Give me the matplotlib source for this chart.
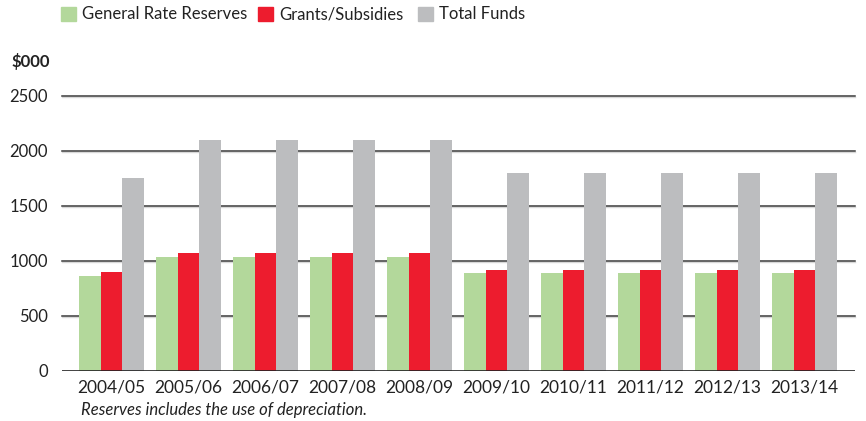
import numpy as np
import matplotlib.pyplot as plt
from matplotlib.patches import Rectangle

plt.rcParams['font.family'] = ['Lato', 'DejaVu Sans']

years = ['2004/05', '2005/06', '2006/07', '2007/08', '2008/09',
         '2009/10', '2010/11', '2011/12', '2012/13', '2013/14']
reserves = [860, 1030, 1030, 1030, 1030, 885, 885, 885, 885, 885]
grants = [895, 1068, 1068, 1068, 1068, 915, 915, 915, 915, 915]
total = [1750, 2100, 2100, 2100, 2100, 1800, 1800, 1800, 1800, 1800]
yticks = [0, 500, 1000, 1500, 2000, 2500]

c_green = '#b3d89b'
c_red = '#ed1c2e'
c_gray = '#bcbdbf'

fig = plt.figure(figsize=(8.66, 4.21), dpi=100)
ax = fig.add_axes([0.0716, 0.1195, 0.9157, 0.6532])

x = np.arange(len(years))
w = 0.2814
ax.bar(x - w, reserves, w, color=c_green, zorder=3)
ax.bar(x, grants, w, color=c_red, zorder=3)
ax.bar(x + w, total, w, color=c_gray, zorder=3)

# gridlines with faint shadow underneath
for v in yticks[1:]:
    ax.axhline(v - 10, color='#d8d8d8', lw=1.0, zorder=1, clip_on=False)
    ax.axhline(v, color='#3a3a3a', lw=1.1, zorder=2, clip_on=False)
ax.axhline(0, color='#222222', lw=1.2, zorder=4)

ax.set_xlim(-0.643, 9.656)
ax.set_ylim(0, 2500)
for s in ax.spines.values():
    s.set_visible(False)
ax.set_yticks(yticks)
ax.set_yticklabels([str(v) for v in yticks])
ax.set_xticks(x)
ax.set_xticklabels(years)
ax.tick_params(axis='y', length=0, pad=10, labelsize=12, labelcolor='#222222')
ax.tick_params(axis='x', length=0, pad=6, labelsize=12.5, labelcolor='#222222')

fig.text(12 / 866, 1 - 62 / 421, '$000', fontsize=12, fontweight='bold',
         color='#222222', va='center', ha='left')
fig.text(81 / 866, 1 - 410 / 421, 'Reserves includes the use of depreciation.',
         fontsize=12, style='italic', color='#222222', va='center', ha='left')

# legend
leg_items = [(61, c_green, 'General Rate Reserves'),
             (258, c_red, 'Grants/Subsidies'),
             (418, c_gray, 'Total Funds')]
for px, col, lab in leg_items:
    fig.patches.append(Rectangle((px / 866, 1 - 21 / 421), 15 / 866, 14 / 421,
                                 transform=fig.transFigure, color=col))
    fig.text((px + 21) / 866, 1 - 14 / 421, lab, fontsize=12,
             color='#222222', va='center', ha='left')

fig.savefig('out.png', dpi=100)
